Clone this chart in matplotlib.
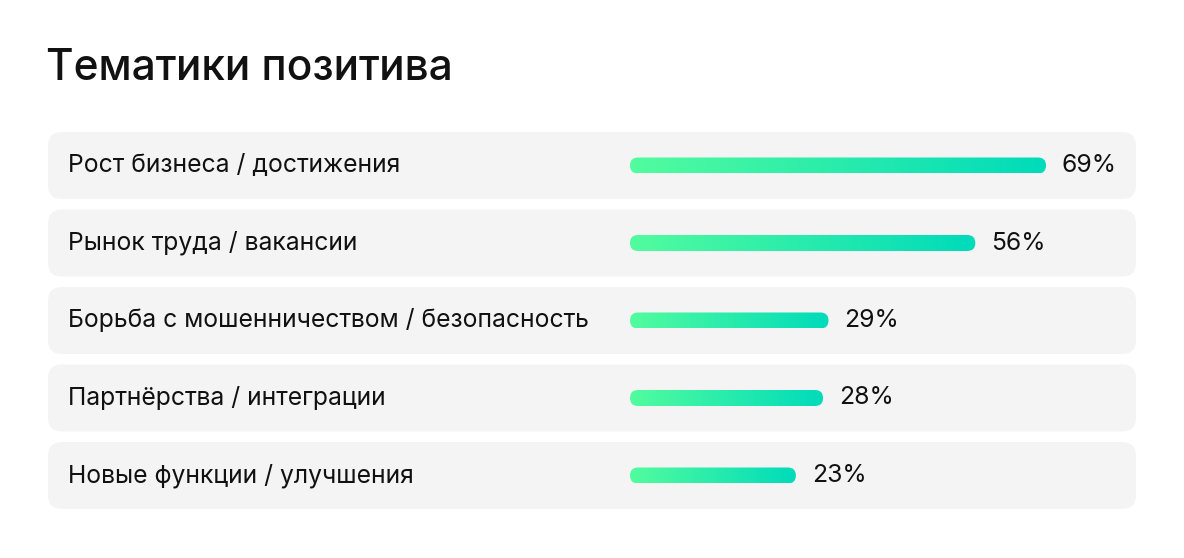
import numpy as np
import matplotlib.pyplot as plt
from matplotlib.patches import FancyBboxPatch
from matplotlib.colors import LinearSegmentedColormap

# data
title = "Тематики позитива"
topics = [
    "Рост бизнеса / достижения",
    "Рынок труда / вакансии",
    "Борьба с мошенничеством / безопасность",
    "Партнёрства / интеграции",
    "Новые функции / улучшения",
]
shares = [69, 56, 29, 28, 23]

W, H = 1184, 558
plt.rcParams['font.family'] = ['Inter', 'DejaVu Sans']

fig = plt.figure(figsize=(W / 100, H / 100), dpi=100)
fig.patch.set_facecolor("white")

# row layout (pixels, from the top)
row_top = 132
row_pitch = 77.5
row_h = 67
bar_h = 16

# background axes in pixel units: row boxes, labels, title
bg = fig.add_axes([0, 0, 1, 1])
bg.set_xlim(0, W)
bg.set_ylim(H, 0)
bg.axis("off")

bg.text(46, 69, title, fontsize=30.5, fontweight="medium", color="#111111",
        va="center", ha="left")

for i, name in enumerate(topics):
    y0 = row_top + i * row_pitch
    box = FancyBboxPatch((48, y0), 1088, row_h,
                         boxstyle="round,pad=0,rounding_size=14",
                         fc="#F4F4F4", ec="none")
    bg.add_patch(box)
    bg.text(68, y0 + row_h / 2, name, fontsize=17.8, color="#111111",
            va="center", ha="left")

# bar axes in data units
px_per_pct = 5.438
x_start = -7.5  # bar cap starts a little before zero
ax_left = 630
ax = fig.add_axes([ax_left / W, 0, (W - ax_left) / W, 1])
c0 = (row_top + row_h / 2) / row_pitch
ax.axis("off")
ax.patch.set_alpha(0)

cmap = LinearSegmentedColormap.from_list("grn", ["#52FC9E", "#00DBBA"])
grad = np.linspace(0, 1, 256).reshape(1, -1)
aspect = px_per_pct / row_pitch
bh = bar_h / row_pitch
rad = (bar_h / 2) / px_per_pct

for i, v in enumerate(shares):
    patch = FancyBboxPatch((x_start, i - bh / 2), v - x_start, bh,
                           boxstyle=f"round,pad=0,rounding_size={rad}",
                           mutation_aspect=aspect, fc="none", ec="none")
    ax.add_patch(patch)
    im = ax.imshow(grad, cmap=cmap, aspect="auto",
                   extent=(x_start, v, i + bh / 2, i - bh / 2),
                   interpolation="bilinear")
    im.set_clip_path(patch)
    ax.annotate(f"{v}%", (v, i), xytext=(11.5, 0), textcoords="offset points",
                fontsize=17.8, color="#111111", va="center", ha="left")

ax.set_xlim(x_start, x_start + (W - ax_left) / px_per_pct)
ax.set_ylim((H - row_top - row_h / 2) / row_pitch, -c0)

fig.savefig("out.png", dpi=100)
